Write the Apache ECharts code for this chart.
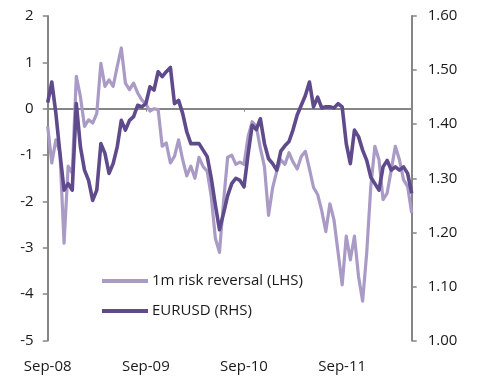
<!DOCTYPE html>
<html>
<head>
<meta charset="utf-8">
<script src="https://cdn.jsdelivr.net/npm/echarts@6/dist/echarts.min.js"></script>
<style>
html,body{margin:0;padding:0;background:#fff;}
#chart{width:490px;height:379px;}
</style>
</head>
<body>
<div id="chart"></div>
<script>
// Half-monthly observations starting Sep-08 (x in months since Sep-08)
var stepMonths = 0.5;
var xTickLabels = ['Sep-08', 'Sep-09', 'Sep-10', 'Sep-11'];
var leftTicks = [-5, -4, -3, -2, -1, 0, 1, 2];
var rightTicks = ['1.00', '1.10', '1.20', '1.30', '1.40', '1.50', '1.60'];
var seriesNames = ['1m risk reversal (LHS)', 'EURUSD (RHS)'];

// 1m risk reversal (left axis)
var riskReversal = [
  -0.38, -1.17, -0.67, -0.95, -2.90, -1.24, -1.39, 0.70, 0.26, -0.38,
  -0.24, -0.31, -0.10, 0.98, 0.48, 0.62, 0.48, 0.91, 1.31, 0.55,
  0.41, 0.55, 0.34, 0.19, 0.10, -0.05, 0.00, -0.02, -0.81, -0.74,
  -1.17, -1.03, -0.67, -1.10, -1.45, -1.24, -1.50, -1.05, -1.25, -1.35,
  -1.90, -2.80, -3.10, -2.00, -1.05, -1.00, -1.20, -1.15, -1.20, -0.60,
  -0.28, -0.38, -0.85, -1.25, -2.30, -1.70, -1.35, -1.10, -1.20, -0.95,
  -1.15, -1.30, -1.03, -0.92, -1.30, -1.70, -1.85, -2.20, -2.65, -2.05,
  -2.40, -3.10, -3.80, -2.75, -3.26, -2.75, -3.62, -4.15, -3.11, -1.68,
  -0.81, -1.10, -1.96, -1.82, -1.32, -0.81, -1.10, -1.53, -1.68, -2.25
];

// EURUSD (right axis)
var eurusd = [
  1.440, 1.478, 1.420, 1.346, 1.278, 1.290, 1.278, 1.438, 1.358, 1.315,
  1.296, 1.259, 1.278, 1.364, 1.346, 1.309, 1.327, 1.358, 1.407, 1.389,
  1.407, 1.414, 1.435, 1.432, 1.438, 1.469, 1.463, 1.497, 1.488, 1.497,
  1.505, 1.438, 1.444, 1.420, 1.386, 1.364, 1.364, 1.364, 1.352, 1.340,
  1.300, 1.250, 1.205, 1.235, 1.268, 1.290, 1.300, 1.296, 1.284, 1.345,
  1.398, 1.390, 1.410, 1.364, 1.336, 1.327, 1.315, 1.350, 1.360, 1.368,
  1.390, 1.417, 1.435, 1.453, 1.478, 1.432, 1.450, 1.430, 1.432, 1.432,
  1.430, 1.438, 1.432, 1.364, 1.327, 1.389, 1.377, 1.352, 1.333, 1.302,
  1.290, 1.278, 1.321, 1.333, 1.315, 1.321, 1.315, 1.321, 1.309, 1.272
];

var rrData = riskReversal.map(function (v, i) { return [i * stepMonths, v]; });
var fxData = eurusd.map(function (v, i) { return [i * stepMonths, v]; });
var xMax = (riskReversal.length - 1) * stepMonths;

var FONT = 'Open Sans';
var TXT = '#1a1a1a';
var AXIS = '#868686';

var chart = echarts.init(document.getElementById('chart'), null, {renderer: 'canvas'});
chart.setOption({
  animation: false,
  backgroundColor: '#ffffff',
  grid: {left: 47.7, right: 78.3, top: 16, bottom: 38.5, containLabel: false},
  legend: {
    orient: 'vertical',
    left: 102,
    top: 272,
    padding: 0,
    itemWidth: 46,
    itemHeight: 4,
    itemGap: 12,
    icon: 'rect',
    data: seriesNames,
    textStyle: {fontFamily: FONT, fontSize: 15, color: TXT, lineHeight: 18, padding: [0, 0, 0, -1]}
  },
  xAxis: [
    {
      type: 'value', min: 0, max: xMax, interval: 12,
      axisLine: {show: false},
      axisTick: {show: false},
      splitLine: {show: false},
      axisLabel: {
        margin: 19,
        fontFamily: FONT, fontSize: 15, color: TXT,
        formatter: function (v) {
          var k = v / 12;
          return (Math.abs(k - Math.round(k)) < 1e-9 && xTickLabels[Math.round(k)]) ? xTickLabels[Math.round(k)] : '';
        }
      }
    },
    {
      type: 'value', min: 0, max: xMax, interval: 12,
      position: 'bottom',
      axisLine: {show: true, onZero: true, onZeroAxisIndex: 0, lineStyle: {color: AXIS, width: 2}},
      axisTick: {show: true, inside: false, length: 3, lineStyle: {color: AXIS, width: 1}},
      axisLabel: {show: false},
      splitLine: {show: false}
    }
  ],
  yAxis: [
    {
      type: 'value', min: leftTicks[0], max: leftTicks[leftTicks.length - 1], interval: 1,
      position: 'left',
      axisLine: {show: true, onZero: false, lineStyle: {color: AXIS, width: 2}},
      axisTick: {show: true, length: 5, lineStyle: {color: AXIS, width: 1.5}},
      splitLine: {show: false},
      axisLabel: {margin: 14, fontFamily: FONT, fontSize: 15, color: TXT}
    },
    {
      type: 'value', min: parseFloat(rightTicks[0]), max: parseFloat(rightTicks[rightTicks.length - 1]), interval: 0.1,
      position: 'right',
      axisLine: {show: true, onZero: false, lineStyle: {color: AXIS, width: 2}},
      axisTick: {show: true, length: 5, lineStyle: {color: AXIS, width: 1.5}},
      splitLine: {show: false},
      axisLabel: {
        margin: 16, fontFamily: FONT, fontSize: 15, color: TXT,
        formatter: function (v) {
          var s = v.toFixed(2);
          return rightTicks.indexOf(s) >= 0 ? s : '';
        }
      }
    }
  ],
  series: [
    {
      name: seriesNames[0], type: 'line', xAxisIndex: 0, yAxisIndex: 0,
      data: rrData, showSymbol: false, symbol: 'none', z: 2,
      itemStyle: {color: '#a99bc6'},
      lineStyle: {color: '#a99bc6', width: 3.2, join: 'round'}
    },
    {
      name: seriesNames[1], type: 'line', xAxisIndex: 0, yAxisIndex: 1,
      data: fxData, showSymbol: false, symbol: 'none', z: 3,
      itemStyle: {color: '#5f4a8b'},
      lineStyle: {color: '#5f4a8b', width: 3.6, join: 'round'}
    }
  ]
});
</script>
</body>
</html>
